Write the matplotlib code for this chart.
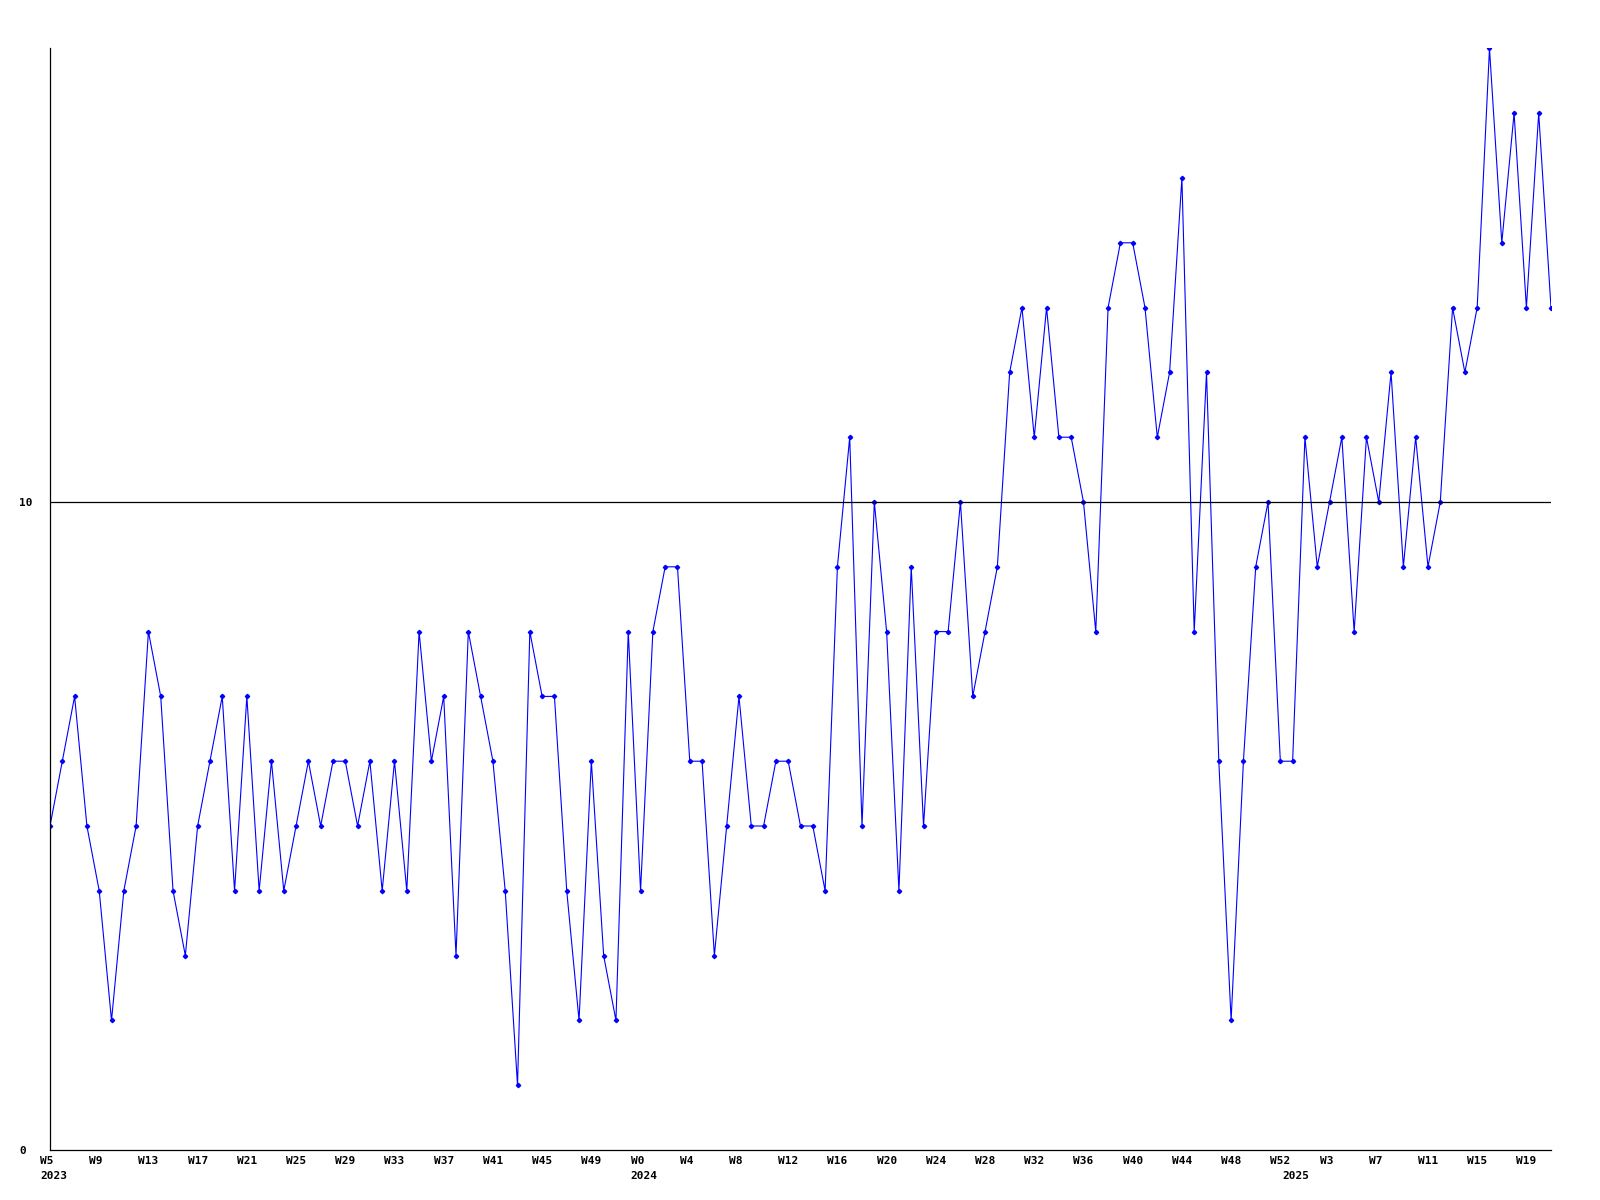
import matplotlib
matplotlib.use("Agg")
import matplotlib.pyplot as plt
import matplotlib.transforms as mtransforms

# week labels per year (strftime %W style)
weeks_2023 = list(range(5, 53))
weeks_2024 = list(range(0, 53))
weeks_2025 = list(range(0, 22))
years = [2023, 2024, 2025]

values = [
    5, 6, 7, 5, 4, 2, 4, 5, 8, 7, 4, 3, 5, 6, 7, 4, 7, 4, 6, 4,
    5, 6, 5, 6, 6, 5, 6, 4, 6, 4, 8, 6, 7, 3, 8, 7, 6, 4, 1, 8,
    7, 7, 4, 2, 6, 3, 2, 8, 4, 8, 9, 9, 6, 6, 3, 5, 7, 5, 5, 6,
    6, 5, 5, 4, 9, 11, 5, 10, 8, 4, 9, 5, 8, 8, 10, 7, 8, 9, 12, 13,
    11, 13, 11, 11, 10, 8, 13, 14, 14, 13, 11, 12, 15, 8, 12, 6, 2, 6, 9, 10,
    6, 6, 11, 9, 10, 11, 8, 11, 10, 12, 9, 11, 9, 10, 13, 12, 13, 17, 14, 16,
    13, 16, 13,
]

week_labels = ["W%d" % w for w in weeks_2023 + weeks_2024 + weeks_2025]
year_starts = [0, len(weeks_2023), len(weeks_2023) + len(weeks_2024)]
x = list(range(len(values)))

fig = plt.figure(figsize=(16, 12), dpi=100)
ax = fig.add_axes([50 / 1600, 50 / 1200, 1501 / 1600, 1101.6 / 1200])

ax.plot(x, values, color="#0000ff", lw=0.8, marker="D", markersize=2.2,
        markerfacecolor="#0000ff", markeredgecolor="#0000ff")
ax.axhline(10, color="black", lw=0.9)

ax.set_xlim(0, len(values) - 1)
ax.set_ylim(0, 17)
for s in ["top", "right"]:
    ax.spines[s].set_visible(False)
for s in ["left", "bottom"]:
    ax.spines[s].set_linewidth(0.9)

font = dict(family="DejaVu Sans Mono", weight="bold", size=8)

# year labels sit on the same spots as some week ticks
ax.xaxis.remove_overlapping_locs = False

tick_pos = x[::4]
ax.set_xticks(tick_pos)
ax.set_xticklabels([week_labels[i] for i in tick_pos], **font)
ax.set_xticks(year_starts, minor=True)
ax.set_xticklabels([str(y) for y in years], minor=True, **font)
ax.tick_params(axis="x", which="major", length=0, pad=4)
ax.tick_params(axis="x", which="minor", length=0, pad=15)

shift = mtransforms.ScaledTranslation(-10 / 100, 0, fig.dpi_scale_trans)
for lab in ax.get_xticklabels() + ax.get_xticklabels(minor=True):
    lab.set_horizontalalignment("left")
    lab.set_transform(lab.get_transform() + shift)

ax.set_yticks([0, 10])
ax.set_yticklabels(["0", "10"], **font)
ax.tick_params(axis="y", length=0, pad=22)
for lab in ax.get_yticklabels():
    lab.set_horizontalalignment("left")

fig.savefig("out.png", dpi=100)
